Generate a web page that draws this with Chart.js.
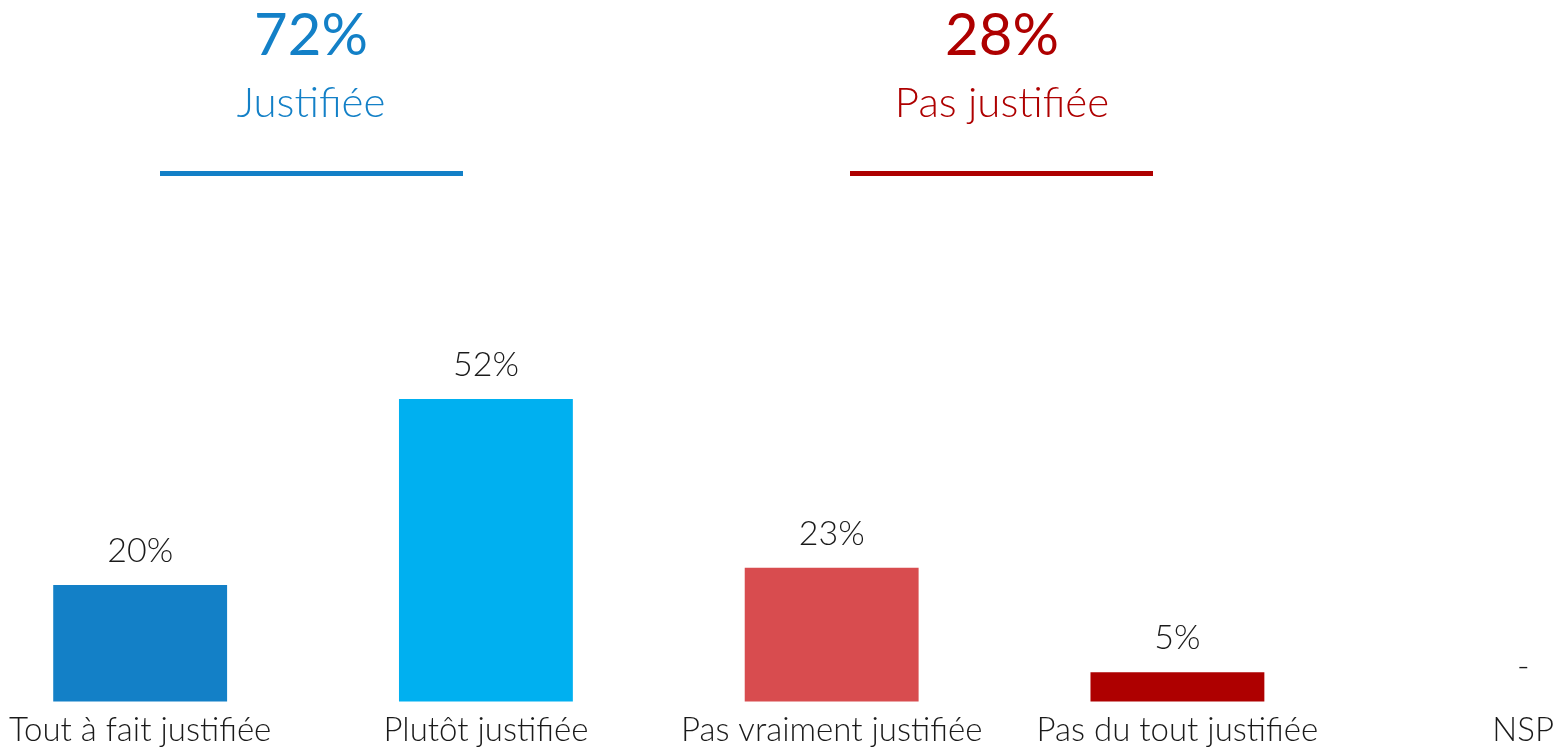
<!DOCTYPE html>
<html>
<head>
<meta charset="utf-8">
<script src="https://cdn.jsdelivr.net/npm/chart.js@4.4.1/dist/chart.umd.min.js"></script>
<style>
  html, body { margin: 0; padding: 0; background: #ffffff; }
  #wrap { position: relative; width: 1563px; height: 751px; overflow: hidden; font-family: "Lato", "Open Sans", sans-serif; font-weight: 300; }
  #chart { position: absolute; left: 0; top: 0; }
  .hdr { position: absolute; text-align: center; width: 400px; line-height: 1; }
  .big { font-size: 58px; font-weight: 400; }
  .sub { font-size: 42px; font-weight: 300; }
  .rule { position: absolute; height: 5px; }
</style>
</head>
<body>
<div id="wrap">
  <canvas id="chart" width="1563" height="765"></canvas>
</div>
<script>
const categories = ["Tout à fait justifiée", "Plutôt justifiée", "Pas vraiment justifiée", "Pas du tout justifiée", "NSP"];
const values = [20, 52, 23, 5, 0];
const valueLabels = ["20%", "52%", "23%", "5%", "-"];
const barColors = ["#1380C7", "#00B0F0", "#D84C4F", "#AE0000", "#AE0000"];
const groupTotals = ["72%", "28%"];
const groupNames = ["Justifiée", "Pas justifiée"];
const groupColors = ["#1380C7", "#AE0000"];

// headers (real text)
const wrap = document.getElementById('wrap');
const groupCenters = [311, 1002];
const ruleSpans = [[160, 463], [850, 1153]];
groupNames.forEach((name, i) => {
  const big = document.createElement('div');
  big.className = 'hdr big';
  big.style.left = (groupCenters[i] - 200) + 'px';
  big.style.top = '4px';
  big.style.color = groupColors[i];
  big.textContent = groupTotals[i];
  wrap.appendChild(big);
  const sub = document.createElement('div');
  sub.className = 'hdr sub';
  sub.style.left = (groupCenters[i] - 200) + 'px';
  sub.style.top = '80px';
  sub.style.color = groupColors[i];
  sub.textContent = name;
  wrap.appendChild(sub);
  const rule = document.createElement('div');
  rule.className = 'rule';
  rule.style.left = ruleSpans[i][0] + 'px';
  rule.style.width = (ruleSpans[i][1] - ruleSpans[i][0]) + 'px';
  rule.style.top = '171px';
  rule.style.background = groupColors[i];
  wrap.appendChild(rule);
});

const valueLabelPlugin = {
  id: 'valueLabels',
  afterDatasetsDraw(chart) {
    const ctx = chart.ctx;
    const meta = chart.getDatasetMeta(0);
    ctx.save();
    ctx.font = '300 34px Lato, "Open Sans", sans-serif';
    ctx.fillStyle = '#1a1a1a';
    ctx.textAlign = 'center';
    ctx.textBaseline = 'alphabetic';
    meta.data.forEach((bar, i) => {
      ctx.fillText(valueLabels[i], bar.x, bar.y - 23);
    });
    ctx.restore();
  }
};

new Chart(document.getElementById('chart'), {
  type: 'bar',
  data: {
    labels: categories,
    datasets: [{
      data: values,
      backgroundColor: barColors,
      borderWidth: 0,
      clip: false,
      categoryPercentage: 1,
      barPercentage: 174 / 346
    }]
  },
  options: {
    responsive: false,
    animation: false,
    devicePixelRatio: 1,
    layout: { padding: { left: 140, right: 39, top: 120, bottom: 6 } },
    plugins: { legend: { display: false }, tooltip: { enabled: false } },
    scales: {
      x: {
        offset: false,
        grid: { display: false, drawTicks: false },
        border: { display: false },
        ticks: {
          color: '#1a1a1a',
          font: { family: 'Lato, "Open Sans", sans-serif', size: 33, weight: '300' },
          padding: 9,
          maxRotation: 0,
          autoSkip: false
        }
      },
      y: {
        display: false,
        min: 0,
        max: 100
      }
    }
  },
  plugins: [valueLabelPlugin]
});
</script>
</body>
</html>
